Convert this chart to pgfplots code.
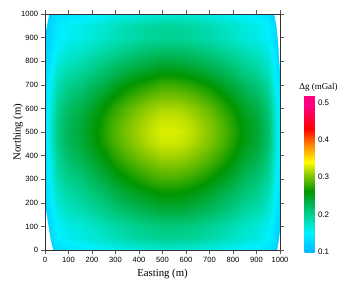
\documentclass[border=0pt]{standalone}
\usepackage{pgfplots}
\pgfplotsset{compat=1.18}
\usepackage{fontspec}
\setmainfont{Liberation Serif}
\newfontfamily\sansf{Liberation Sans}
\pgfplotsset{colormap={grav}{rgb255(100pt)=(0,185,255) rgb255(150pt)=(0,240,255) rgb255(175pt)=(0,228,200) rgb255(205pt)=(0,205,135) rgb255(235pt)=(0,175,70) rgb255(262pt)=(0,150,0) rgb255(310pt)=(150,205,0) rgb255(340pt)=(255,255,0) rgb255(385pt)=(255,140,0) rgb255(430pt)=(255,0,0) rgb255(490pt)=(255,0,128) rgb255(520pt)=(255,0,128)}}
\begin{document}
\begin{tikzpicture}
\useasboundingbox (-45bp,-37bp) rectangle (294bp,250bp);
\begin{axis}[
  at={(0,0)}, anchor=south west,
  scale only axis, width=235bp, height=236bp,
  view={0}{90},
  xmin=0, xmax=1000, ymin=0, ymax=1000,
  xtick={0,100,...,1000}, ytick={0,100,...,1000},
  tick align=outside, major tick length=3.5bp,
  tick style={black!65, line width=0.5pt},
  axis line style={black!80, line width=0.6pt},
  tick label style={font=\sansf\fontsize{7.6}{8}\selectfont},
  /pgf/number format/assume math mode=true,
  /pgf/number format/1000 sep={},
  xlabel={Easting (m)}, ylabel={Northing (m)},
  label style={font=\fontsize{10.8}{12}\selectfont},
  ylabel style={at={(axis description cs:-0.115,0.5)}, anchor=center},
  colormap name=grav,
  point meta min=0.1, point meta max=0.52,
  axis on top,
  colorbar,
  colorbar style={
    scale only axis, width=10bp, height=157bp,
    at={(parent axis.south east)}, anchor=south west, xshift=16bp, yshift=-2bp,
    ytick={0.1,0.2,0.3,0.4,0.5},
    yticklabel style={font=\sansf\fontsize{8}{9}\selectfont, /pgf/number format/.cd, fixed, fixed zerofill, precision=1, assume math mode=true},
    axis line style={draw=none}, major tick length=0pt,
    title={Δg (mGal)},
    title style={font=\fontsize{9}{10}\selectfont, at={(0.5,1)}, anchor=south, xshift=9bp, yshift=-6bp},
  },
]
\addplot3[surf, shader=interp] coordinates {
(0,0,0.111) (50,0,0.132) (100,0,0.139) (150,0,0.142) (200,0,0.147) (250,0,0.152) (300,0,0.157) (350,0,0.161) (400,0,0.164) (450,0,0.167) (500,0,0.169) (550,0,0.169) (600,0,0.168) (650,0,0.165) (700,0,0.161) (750,0,0.157) (800,0,0.152) (850,0,0.147) (900,0,0.143) (950,0,0.136) (1000,0,0.112)

(0,50,0.116) (50,50,0.147) (100,50,0.157) (150,50,0.162) (200,50,0.169) (250,50,0.176) (300,50,0.183) (350,50,0.189) (400,50,0.194) (450,50,0.198) (500,50,0.201) (550,50,0.201) (600,50,0.199) (650,50,0.195) (700,50,0.190) (750,50,0.184) (800,50,0.177) (850,50,0.169) (900,50,0.163) (950,50,0.153) (1000,50,0.118)

(0,100,0.118) (50,100,0.151) (100,100,0.162) (150,100,0.167) (200,100,0.175) (250,100,0.183) (300,100,0.191) (350,100,0.197) (400,100,0.203) (450,100,0.207) (500,100,0.210) (550,100,0.210) (600,100,0.208) (650,100,0.204) (700,100,0.198) (750,100,0.192) (800,100,0.184) (850,100,0.175) (900,100,0.168) (950,100,0.157) (1000,100,0.120)

(0,150,0.121) (50,150,0.160) (100,150,0.173) (150,150,0.180) (200,150,0.189) (250,150,0.198) (300,150,0.208) (350,150,0.215) (400,150,0.222) (450,150,0.227) (500,150,0.231) (550,150,0.231) (600,150,0.228) (650,150,0.223) (700,150,0.217) (750,150,0.209) (800,150,0.200) (850,150,0.189) (900,150,0.181) (950,150,0.168) (1000,150,0.124)

(0,200,0.124) (50,200,0.169) (100,200,0.184) (150,200,0.191) (200,200,0.202) (250,200,0.212) (300,200,0.223) (350,200,0.232) (400,200,0.239) (450,200,0.245) (500,200,0.250) (550,200,0.250) (600,200,0.247) (650,200,0.241) (700,200,0.233) (750,200,0.224) (800,200,0.214) (850,200,0.202) (900,200,0.193) (950,200,0.178) (1000,200,0.127)

(0,250,0.127) (50,250,0.176) (100,250,0.193) (150,250,0.201) (200,250,0.213) (250,250,0.224) (300,250,0.236) (350,250,0.246) (400,250,0.254) (450,250,0.261) (500,250,0.266) (550,250,0.266) (600,250,0.262) (650,250,0.256) (700,250,0.247) (750,250,0.237) (800,250,0.226) (850,250,0.213) (900,250,0.203) (950,250,0.186) (1000,250,0.130)

(0,300,0.129) (50,300,0.185) (100,300,0.203) (150,300,0.212) (200,300,0.225) (250,300,0.238) (300,300,0.251) (350,300,0.262) (400,300,0.271) (450,300,0.279) (500,300,0.284) (550,300,0.284) (600,300,0.280) (650,300,0.273) (700,300,0.264) (750,300,0.253) (800,300,0.240) (850,300,0.225) (900,300,0.214) (950,300,0.196) (1000,300,0.133)

(0,350,0.132) (50,350,0.192) (100,350,0.212) (150,350,0.222) (200,350,0.236) (250,350,0.250) (300,350,0.264) (350,350,0.276) (400,350,0.286) (450,350,0.294) (500,350,0.300) (550,350,0.300) (600,350,0.296) (650,350,0.288) (700,350,0.278) (750,350,0.266) (800,350,0.252) (850,350,0.236) (900,350,0.224) (950,350,0.204) (1000,350,0.136)

(0,400,0.134) (50,400,0.198) (100,400,0.220) (150,400,0.231) (200,400,0.246) (250,400,0.260) (300,400,0.275) (350,400,0.288) (400,400,0.299) (450,400,0.308) (500,400,0.314) (550,400,0.314) (600,400,0.310) (650,400,0.301) (700,400,0.290) (750,400,0.278) (800,400,0.263) (850,400,0.246) (900,400,0.233) (950,400,0.211) (1000,400,0.139)

(0,450,0.136) (50,450,0.204) (100,450,0.226) (150,450,0.238) (200,450,0.253) (250,450,0.269) (300,450,0.285) (350,450,0.298) (400,450,0.310) (450,450,0.319) (500,450,0.325) (550,450,0.325) (600,450,0.321) (650,450,0.312) (700,450,0.301) (750,450,0.287) (800,450,0.271) (850,450,0.253) (900,450,0.240) (950,450,0.217) (1000,450,0.141)

(0,500,0.137) (50,500,0.206) (100,500,0.229) (150,500,0.240) (200,500,0.256) (250,500,0.273) (300,500,0.289) (350,500,0.302) (400,500,0.314) (450,500,0.323) (500,500,0.330) (550,500,0.330) (600,500,0.325) (650,500,0.316) (700,500,0.305) (750,500,0.291) (800,500,0.275) (850,500,0.256) (900,500,0.243) (950,500,0.220) (1000,500,0.141)

(0,550,0.136) (50,550,0.204) (100,550,0.226) (150,550,0.238) (200,550,0.253) (250,550,0.269) (300,550,0.285) (350,550,0.298) (400,550,0.310) (450,550,0.319) (500,550,0.325) (550,550,0.325) (600,550,0.321) (650,550,0.312) (700,550,0.301) (750,550,0.287) (800,550,0.271) (850,550,0.253) (900,550,0.240) (950,550,0.217) (1000,550,0.141)

(0,600,0.135) (50,600,0.199) (100,600,0.221) (150,600,0.232) (200,600,0.247) (250,600,0.262) (300,600,0.277) (350,600,0.290) (400,600,0.301) (450,600,0.310) (500,600,0.316) (550,600,0.316) (600,600,0.312) (650,600,0.303) (700,600,0.292) (750,600,0.279) (800,600,0.264) (850,600,0.247) (900,600,0.234) (950,600,0.212) (1000,600,0.139)

(0,650,0.132) (50,650,0.192) (100,650,0.212) (150,650,0.222) (200,650,0.236) (250,650,0.250) (300,650,0.264) (350,650,0.276) (400,650,0.286) (450,650,0.294) (500,650,0.300) (550,650,0.300) (600,650,0.296) (650,650,0.288) (700,650,0.278) (750,650,0.266) (800,650,0.252) (850,650,0.236) (900,650,0.224) (950,650,0.204) (1000,650,0.136)

(0,700,0.129) (50,700,0.184) (100,700,0.202) (150,700,0.211) (200,700,0.224) (250,700,0.236) (300,700,0.249) (350,700,0.260) (400,700,0.269) (450,700,0.276) (500,700,0.282) (550,700,0.282) (600,700,0.278) (650,700,0.271) (700,700,0.262) (750,700,0.251) (800,700,0.238) (850,700,0.224) (900,700,0.213) (950,700,0.194) (1000,700,0.133)

(0,750,0.125) (50,750,0.173) (100,750,0.189) (150,750,0.197) (200,750,0.208) (250,750,0.219) (300,750,0.230) (350,750,0.240) (400,750,0.248) (450,750,0.254) (500,750,0.259) (550,750,0.259) (600,750,0.256) (650,750,0.249) (700,750,0.241) (750,750,0.232) (800,750,0.221) (850,750,0.208) (900,750,0.198) (950,750,0.182) (1000,750,0.129)

(0,800,0.122) (50,800,0.163) (100,800,0.177) (150,800,0.184) (200,800,0.194) (250,800,0.204) (300,800,0.213) (350,800,0.221) (400,800,0.228) (450,800,0.234) (500,800,0.238) (550,800,0.238) (600,800,0.235) (650,800,0.230) (700,800,0.223) (750,800,0.215) (800,800,0.205) (850,800,0.194) (900,800,0.186) (950,800,0.172) (1000,800,0.125)

(0,850,0.119) (50,850,0.154) (100,850,0.166) (150,850,0.172) (200,850,0.180) (250,850,0.188) (300,850,0.196) (350,850,0.203) (400,850,0.209) (450,850,0.214) (500,850,0.217) (550,850,0.217) (600,850,0.215) (650,850,0.210) (700,850,0.204) (750,850,0.197) (800,850,0.189) (850,850,0.180) (900,850,0.173) (950,850,0.161) (1000,850,0.121)

(0,900,0.116) (50,900,0.145) (100,900,0.155) (150,900,0.160) (200,900,0.167) (250,900,0.174) (300,900,0.181) (350,900,0.187) (400,900,0.192) (450,900,0.196) (500,900,0.199) (550,900,0.199) (600,900,0.197) (650,900,0.193) (700,900,0.188) (750,900,0.182) (800,900,0.175) (850,900,0.167) (900,900,0.161) (950,900,0.151) (1000,900,0.118)

(0,950,0.115) (50,950,0.144) (100,950,0.154) (150,950,0.159) (200,950,0.166) (250,950,0.172) (300,950,0.179) (350,950,0.185) (400,950,0.190) (450,950,0.194) (500,950,0.197) (550,950,0.197) (600,950,0.195) (650,950,0.191) (700,950,0.186) (750,950,0.180) (800,950,0.173) (850,950,0.166) (900,950,0.160) (950,950,0.150) (1000,950,0.117)

(0,1000,0.111) (50,1000,0.132) (100,1000,0.139) (150,1000,0.142) (200,1000,0.147) (250,1000,0.152) (300,1000,0.157) (350,1000,0.161) (400,1000,0.164) (450,1000,0.167) (500,1000,0.169) (550,1000,0.169) (600,1000,0.168) (650,1000,0.165) (700,1000,0.161) (750,1000,0.157) (800,1000,0.152) (850,1000,0.147) (900,1000,0.143) (950,1000,0.136) (1000,1000,0.112)
};
\addplot3[fill=white, draw=none, forget plot] coordinates {(0,0,0.6) (35,0,0.6) (25,40,0.6) (18,80,0.6) (10,130,0.6) (4,170,0.6) (0,190,0.6) (0,0,0.6)};
\addplot3[fill=white, draw=none, forget plot] coordinates {(0,1000,0.6) (18,1000,0.6) (10,960,0.6) (4,930,0.6) (0,910,0.6) (0,1000,0.6)};
\addplot3[fill=white, draw=none, forget plot] coordinates {(1000,1000,0.6) (975,1000,0.6) (985,950,0.6) (992,880,0.6) (997,800,0.6) (1000,760,0.6) (1000,1000,0.6)};
\addplot3[fill=white, draw=none, forget plot] coordinates {(1000,0,0.6) (988,0,0.6) (995,40,0.6) (1000,80,0.6) (1000,0,0.6)};
\end{axis}
\end{tikzpicture}
\end{document}
